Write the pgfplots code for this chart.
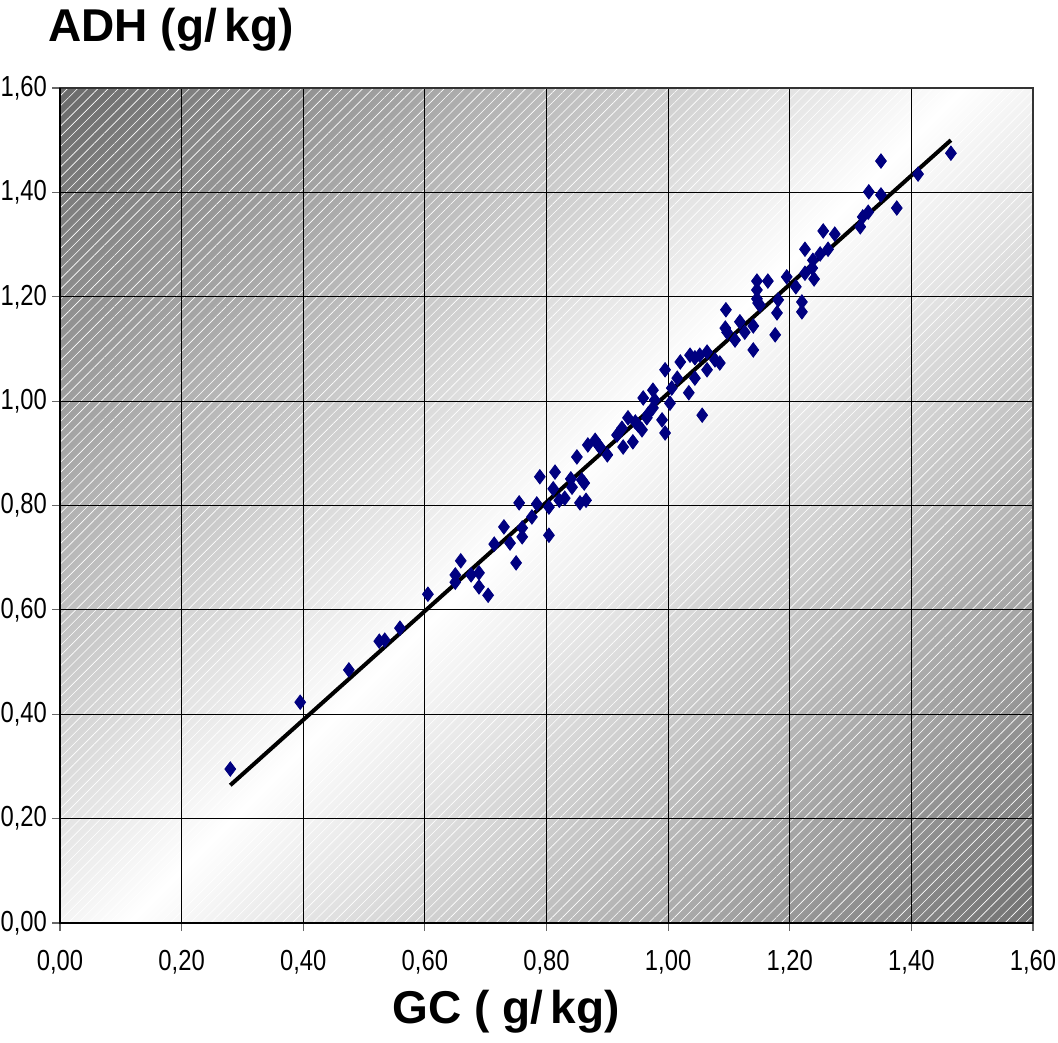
\documentclass[border=0pt]{standalone}
\usepackage{pgfplots}
\pgfplotsset{compat=1.18}
\usetikzlibrary{patterns.meta}
\usepackage{fontspec}
\setmainfont{Liberation Sans}
\newfontfamily\condfont[FakeStretch=0.82]{Liberation Sans}
\definecolor{navy}{RGB}{0,0,128}
\definecolor{bgtl}{RGB}{106,106,106}
\definecolor{bgbr}{RGB}{114,114,114}
\pgfdeclareverticalshading{diagshade}{100bp}{color(0bp)=(bgbr); color(14.6bp)=(bgbr); color(50bp)=(white); color(85.4bp)=(bgtl); color(100bp)=(bgtl)}
\begin{document}
\begin{tikzpicture}
\path[use as bounding box] (-30pt,-59.5pt) rectangle (499pt,461.5pt);
\begin{axis}[
  scale only axis,
  width=486.5pt, height=417.5pt,
  xmin=0, xmax=1.6, ymin=0, ymax=1.6,
  xtick={0,0.2,...,1.6}, ytick={0,0.2,...,1.6},
  grid=major,
  major grid style={black, line width=0.6pt},
  axis line style={black!80, line width=0.6pt},
  tick align=outside,
  major tick length=4pt,
  tick style={black!60, line width=0.6pt},
  xtick pos=bottom, ytick pos=left,
  /pgf/number format/.cd, fixed, fixed zerofill, precision=2, use comma, assume math mode=true,
  /pgfplots/.cd,
  ticklabel style={font=\condfont\fontsize{14.5}{16}\selectfont},
  xticklabel style={yshift=-6pt},
  yticklabel style={xshift=1pt},
  axis background/.style={preaction={shade, shading=diagshade, shading angle=45}, pattern={Lines[angle=45, distance=3.6pt, line width=0.3pt]}, pattern color=white, fill opacity=0.12},
  clip=false,
]
\addplot[only marks, mark=diamond*, mark size=3.6pt, color=navy, mark options={fill=navy, draw=navy}] table {
x y
0.280 0.295
0.395 0.423
0.475 0.485
0.525 0.540
0.534 0.542
0.559 0.565
0.605 0.630
0.650 0.667
0.650 0.653
0.659 0.694
0.676 0.667
0.689 0.671
0.689 0.644
0.704 0.628
0.714 0.726
0.730 0.759
0.740 0.728
0.750 0.690
0.755 0.805
0.760 0.757
0.760 0.740
0.776 0.778
0.784 0.803
0.789 0.855
0.804 0.797
0.804 0.743
0.811 0.832
0.814 0.864
0.821 0.810
0.830 0.814
0.840 0.851
0.842 0.835
0.850 0.893
0.855 0.805
0.865 0.810
0.858 0.849
0.862 0.843
0.868 0.916
0.880 0.925
0.885 0.916
0.888 0.912
0.900 0.897
0.916 0.935
0.924 0.948
0.926 0.912
0.934 0.968
0.942 0.922
0.946 0.960
0.957 0.945
0.950 0.955
0.959 1.006
0.965 0.968
0.967 0.975
0.975 0.987
0.975 1.021
0.978 1.002
0.990 0.964
0.995 0.939
0.995 1.060
1.003 0.996
1.006 1.025
1.015 1.044
1.020 1.075
1.034 1.016
1.036 1.088
1.044 1.083
1.044 1.044
1.052 1.088
1.056 0.973
1.064 1.094
1.064 1.060
1.077 1.079
1.085 1.073
1.094 1.140
1.095 1.175
1.097 1.132
1.110 1.117
1.118 1.152
1.126 1.132
1.140 1.144
1.140 1.098
1.146 1.230
1.146 1.213
1.146 1.196
1.148 1.188
1.151 1.184
1.164 1.230
1.176 1.127
1.179 1.169
1.181 1.194
1.195 1.238
1.210 1.219
1.220 1.190
1.220 1.171
1.225 1.245
1.225 1.291
1.237 1.255
1.238 1.270
1.240 1.234
1.250 1.282
1.255 1.326
1.263 1.291
1.274 1.320
1.316 1.334
1.320 1.353
1.329 1.362
1.330 1.401
1.350 1.395
1.350 1.460
1.376 1.370
1.411 1.435
1.465 1.475
};
\addplot[black, line width=2pt] coordinates {(0.28,0.264) (1.465,1.500)};
\draw[black, line width=1.3pt] (axis cs:0,1.6) -- (axis cs:0,0) -- (axis cs:1.6,0);
\end{axis}
\node[anchor=base west, inner sep=0pt, font=\bfseries\fontsize{23}{26}\selectfont] at (-6pt,440.5pt) {ADH (g/\,kg)};
\node[anchor=base west, inner sep=0pt, font=\bfseries\fontsize{23}{26}\selectfont] at (166pt,-50pt) {GC ( g/\,kg)};
\end{tikzpicture}
\end{document}
